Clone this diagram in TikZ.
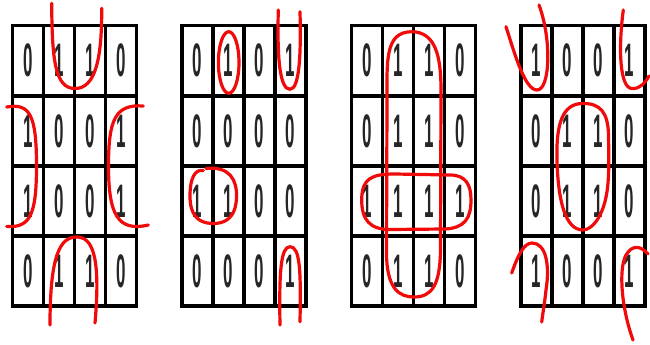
\documentclass[tikz,border=0pt]{standalone}
\usepackage{fontspec}
\setmainfont{Liberation Sans}
\newcommand\dg[1]{\scalebox{0.36}[1]{#1}}
\tikzset{
  gridline/.style={line width=3.5pt, black, line cap=rect},
  digit/.style={font=\fontsize{47}{47}\selectfont\bfseries, inner sep=0pt, text=black!85},
  redline/.style={draw={rgb,255:red,240;green,10;blue,10}, line width=3.2pt, line cap=round, line join=round}
}
\newcommand\kmap[6]{%
  \foreach \r/\row in {1/{#3},2/{#4},3/{#5},4/{#6}}{%
    \foreach \d [count=\c] in \row {%
      \node[digit] (#1-\r-\c) at ({#2+(\c-0.5)*31}, {25.7+(\r-0.5)*70.1}) {\dg{\d}};
    }%
  }%
  \foreach \i in {0,...,4}{\draw[gridline] ({#2+\i*31},25.7) -- ({#2+\i*31},306.1);}%
  \foreach \j in {0,...,4}{\draw[gridline] (#2,{25.7+\j*70.1}) -- ({#2+124},{25.7+\j*70.1});}%
}
\begin{document}
\begin{tikzpicture}[x=1pt,y=-1pt]
\useasboundingbox (0,0) rectangle (650,345);
\fill[white] (0,0) rectangle (650,345);

\kmap{a}{12.5}{0,1,1,0}{1,0,0,1}{1,0,0,1}{0,1,1,0}
\kmap{b}{182}{0,1,0,1}{0,0,0,0}{1,1,0,0}{0,0,0,1}
\kmap{c}{351.5}{0,1,1,0}{0,1,1,0}{1,1,1,1}{0,1,1,0}
\kmap{d}{521}{1,0,0,1}{0,1,1,0}{0,1,1,0}{1,0,0,1}

% map 1
\draw[redline] (51.7,3.3) .. controls (52,60) and (55,88.5) .. (75,88.5) .. controls (95,88.5) and (102,60) .. (101.7,8.3);
\draw[redline] (50,325) .. controls (50,255) and (60,237) .. (76.7,237) .. controls (92,237) and (101,255) .. (95,323);
\draw[redline] (6.7,107) .. controls (30,103) and (36.5,115) .. (36.5,166) .. controls (36.5,215) and (30,228) .. (6.7,226.5);
\draw[redline] (143.3,106) .. controls (115,104) and (108.5,120) .. (108.5,166) .. controls (108.5,215) and (118,232) .. (148.3,225);

% map 2
\draw[redline] (228.7,62.5) ellipse [x radius=10.3, y radius=30.8];
\draw[redline] (278.3,10) .. controls (277,60) and (280,89.3) .. (290,89.3) .. controls (300,89.3) and (301,50) .. (300,11.7);
\draw[redline] (280,325) .. controls (279,270) and (281,246.7) .. (290,246.7) .. controls (300,246.7) and (301,270) .. (300,321.7);
\draw[redline] (206,168.5) .. controls (230,166) and (237,180) .. (236.5,197) .. controls (236,218) and (225,224) .. (212,223.5) .. controls (198,223) and (190,215) .. (190,196) .. controls (190,178) and (195,169) .. (203.3,170.5);

% map 3
\draw[redline] (411.7,31.7) .. controls (385,32) and (387,60) .. (387,100) -- (386.5,250) .. controls (386,290) and (400,297) .. (414,297) .. controls (432,297) and (440,285) .. (440.5,250) -- (441,90) .. controls (441,55) and (435,32) .. (411.7,31.7) -- cycle;
\draw[redline] (361.7,200) .. controls (361.7,178) and (372,174) .. (395,174) -- (450,175) .. controls (466,175) and (471,185) .. (471,200) .. controls (471,218) and (465,228) .. (445,229) -- (390,229.5) .. controls (370,229.5) and (361.7,220) .. (361.7,200) -- cycle;

% map 4
\draw[redline] (506,26.7) .. controls (515,55) and (525,90) .. (537,90) .. controls (550,90) and (552,40) .. (539,5);
\draw[redline] (623.3,10) .. controls (618,50) and (620,88.5) .. (632,88.5) .. controls (640,89) and (645,83) .. (649,76);
\draw[redline] (511.7,273) .. controls (518,255) and (524,243) .. (532,243) .. controls (546,243) and (550,265) .. (546,290) .. controls (545,300) and (543,312) .. (541.7,322);
\draw[redline] (633,340) .. controls (622,310) and (618,270) .. (626,255) .. controls (632,245) and (640,245) .. (648,254);
\draw[redline] (582,103.5) .. controls (600,103) and (608,112) .. (608.5,135) .. controls (609,170) and (610,195) .. (600,215) .. controls (595,225) and (588,230) .. (583,230) .. controls (565,230) and (558,200) .. (557,160) .. controls (556,125) and (562,104) .. (582,103.5) -- cycle;
\end{tikzpicture}
\end{document}
